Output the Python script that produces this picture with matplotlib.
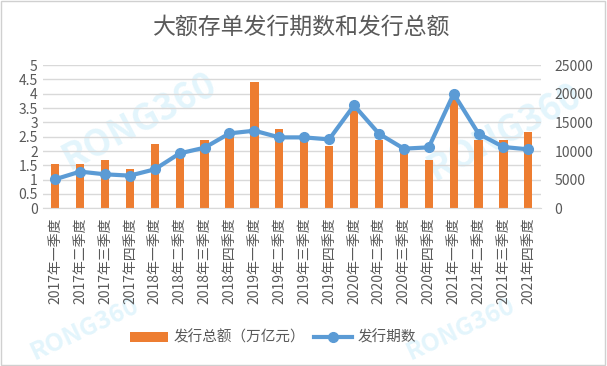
import matplotlib
matplotlib.use("Agg")
import matplotlib.pyplot as plt
from matplotlib.patches import Rectangle

plt.rcParams['font.family'] = ['Noto Sans CJK SC', 'DejaVu Sans']

categories = ["2017年一季度", "2017年二季度", "2017年三季度", "2017年四季度",
              "2018年一季度", "2018年二季度", "2018年三季度", "2018年四季度",
              "2019年一季度", "2019年二季度", "2019年三季度", "2019年四季度",
              "2020年一季度", "2020年二季度", "2020年三季度", "2020年四季度",
              "2021年一季度", "2021年二季度", "2021年三季度", "2021年四季度"]
amount = [1.55, 1.55, 1.69, 1.37, 2.24, 1.95, 2.38, 2.6, 4.41, 2.77,
          2.5, 2.17, 3.5, 2.38, 2.1, 1.69, 3.8, 2.38, 2.38, 2.66]
periods = [5060, 6400, 5930, 5700, 6800, 9590, 10580, 13080, 13550, 12380,
           12380, 12030, 17970, 13020, 10410, 10640, 20000, 13020, 10700, 10290]
left_ticks = [0, 0.5, 1, 1.5, 2, 2.5, 3, 3.5, 4, 4.5, 5]
right_ticks = [0, 5000, 10000, 15000, 20000, 25000]

ORANGE = '#ED7D31'
BLUE = '#5B9BD5'
TXT = '#595959'
GRID = '#D9D9D9'
WM = '#E3F5FC'

fig = plt.figure(figsize=(6.07, 3.66), dpi=100)
fig.patches.append(Rectangle((0.002, 0.003), 0.995, 0.993, transform=fig.transFigure,
                             fill=False, edgecolor='#D0D0D0', linewidth=1))

# watermarks (behind everything)
wm = dict(color=WM, fontsize=26, fontweight='bold', rotation=28,
          ha='center', va='center', zorder=-1)
fig.text(0.23, 0.67, 'RONG360', **wm)
fig.text(0.83, 0.64, 'RONG360', **wm)
wm2 = dict(wm, fontsize=18, rotation=25)
fig.text(0.14, 0.10, 'RONG360', **wm2)
fig.text(0.76, 0.10, 'RONG360', **wm2)

ax = fig.add_axes([0.0703, 0.431, 0.8207, 0.391])
ax.patch.set_alpha(0)

x = list(range(len(categories)))
ax.bar(x, amount, width=0.33, color=ORANGE, zorder=2, label='发行总额（万亿元）')
ax.set_ylim(0, 5)
ax.set_yticks(left_ticks)
ax.set_yticklabels([f'{t:g}' for t in left_ticks])
ax.set_xlim(-0.5, len(categories) - 0.5)
ax.set_xticks(x)
ax.set_xticklabels(categories, rotation=90, fontsize=9.5, color=TXT)
ax.grid(axis='y', color=GRID, linewidth=1, zorder=0)
for s in ['top', 'left', 'right']:
    ax.spines[s].set_visible(False)
ax.spines['bottom'].set_color(GRID)
ax.tick_params(axis='both', length=0, colors=TXT, labelsize=10)
ax.tick_params(axis='x', pad=7)

ax2 = ax.twinx()
ax2.plot(x, periods, color=BLUE, linewidth=3, marker='o', markersize=7,
         zorder=3, label='发行期数')
ax2.set_ylim(0, 25000)
ax2.set_yticks(right_ticks)
for s in ['top', 'left', 'right', 'bottom']:
    ax2.spines[s].set_visible(False)
ax2.tick_params(axis='y', length=0, colors=TXT, labelsize=10, pad=10)

fig.text(0.497, 0.925, '大额存单发行期数和发行总额', ha='center', va='center',
         fontsize=16.5, color=TXT)

h1, l1 = ax.get_legend_handles_labels()
h2, l2 = ax2.get_legend_handles_labels()
fig.legend(h1 + h2, l1 + l2, loc='center', bbox_to_anchor=(0.45, 0.077), ncol=2,
           frameon=False, fontsize=10.5, labelcolor=TXT, handlelength=2.6,
           handletextpad=0.4, columnspacing=0.6)

fig.savefig('out.png', dpi=100)
